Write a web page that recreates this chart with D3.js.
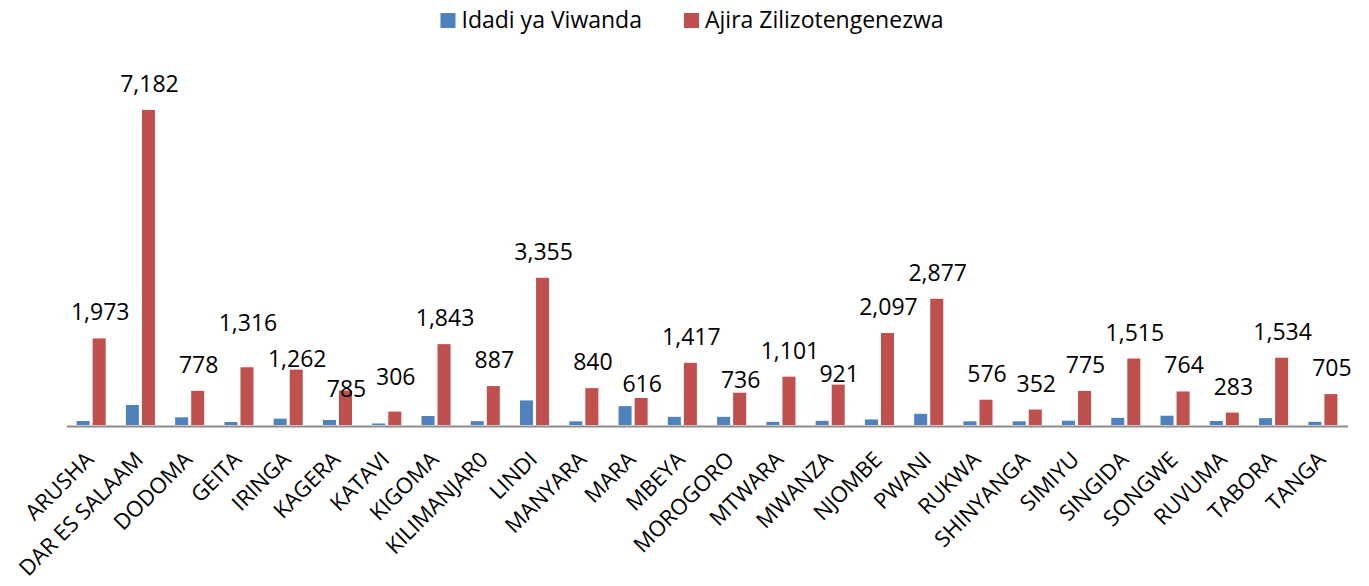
<!DOCTYPE html>
<html>
<head>
<meta charset="utf-8">
<script src="https://cdn.jsdelivr.net/npm/d3@7"></script>
<style>
  body { margin: 0; background: #fff; }
  svg { display: block; font-family: "Open Sans", sans-serif; }
</style>
</head>
<body>
<div id="chart"></div>
<script>
// Regions (mikoa)
const regions = ["ARUSHA", "DAR ES SALAAM", "DODOMA", "GEITA", "IRINGA", "KAGERA", "KATAVI",
    "KIGOMA", "KILIMANJAR0", "LINDI", "MANYARA", "MARA", "MBEYA", "MOROGORO", "MTWARA",
    "MWANZA", "NJOMBE", "PWANI", "RUKWA", "SHINYANGA", "SIMIYU", "SINGIDA", "SONGWE",
    "RUVUMA", "TABORA", "TANGA"];

// Idadi ya Viwanda (no labels in the original)
const viwanda = [91, 456, 175, 68, 144, 114, 35, 205, 88, 560, 84, 430, 186, 186, 72,
    95, 126, 255, 84, 84, 98, 163, 212, 91, 156, 72];

// Ajira Zilizotengenezwa
const ajira = [1973, 7182, 778, 1316, 1262, 785, 306, 1843, 887, 3355, 840, 616, 1417,
    736, 1101, 921, 2097, 2877, 576, 352, 775, 1515, 764, 283, 1534, 705];

const seriesNames = ["Idadi ya Viwanda", "Ajira Zilizotengenezwa"];
const colors = ["#4F81BD", "#C0504D"];

// a few labels were dragged by hand in the original, extra vertical nudge (px)
const labelNudge = [0, 0, 0, -18, 15, 24, -9, 0, 0, 0, 0, 12, 0, 13, 0, 15, 0, 0, 0, 0, 0, 0, 0, 0, 0, 0];

const W = 1369, H = 586;
const plotLeft = 66.5, plotRight = 1347.5, base = 425, plotTop = 74;
const fontSize = 23;

const svg = d3.select("#chart").append("svg")
    .attr("width", W)
    .attr("height", H);

svg.append("rect").attr("width", W).attr("height", H).attr("fill", "#fff");

// scales
const x0 = d3.scaleBand()
    .domain(regions)
    .range([plotLeft, plotRight])
    .paddingInner(0.41)
    .paddingOuter(0.205);

const x1 = d3.scaleBand()
    .domain([0, 1])
    .range([0, x0.bandwidth()])
    .paddingInner(0.19);

const y = d3.scaleLinear()
    .domain([0, 8000])
    .range([base, plotTop]);

const rows = regions.map((r, i) => ({region: r, vals: [viwanda[i], ajira[i]], i: i}));

// bars
const groups = svg.append("g")
    .selectAll("g")
    .data(rows)
    .join("g")
    .attr("transform", d => `translate(${x0(d.region)},0)`);

groups.selectAll("rect")
    .data(d => d.vals.map((v, k) => ({k: k, v: v})))
    .join("rect")
    .attr("x", d => x1(d.k))
    .attr("width", x1.bandwidth())
    .attr("y", d => y(d.v))
    .attr("height", d => base - y(d.v))
    .attr("fill", d => colors[d.k]);

// x axis
const xAxis = svg.append("g")
    .attr("transform", `translate(0,${base + 1})`)
    .call(d3.axisBottom(x0).tickSize(0).tickSizeOuter(0).tickFormat(""));
xAxis.select(".domain").attr("stroke", "#8C8C8C").attr("stroke-width", 2);

// rotated category labels
svg.append("g")
    .selectAll("text")
    .data(regions)
    .join("text")
    .attr("text-anchor", "end")
    .attr("transform", d => `translate(${x0(d) + x0.bandwidth() / 2 + 4},${461}) rotate(-45)`)
    .attr("font-size", 22)
    .attr("fill", "#000")
    .text(d => d);

// data labels for Ajira
const fmt = d3.format(",");
svg.append("g")
    .selectAll("text")
    .data(rows)
    .join("text")
    .attr("text-anchor", "middle")
    .attr("x", d => x0(d.region) + x1(1) + x1.bandwidth() / 2 + 1)
    .attr("y", d => y(d.vals[1]) - 18 + labelNudge[d.i])
    .attr("font-size", fontSize)
    .attr("fill", "#000")
    .text(d => fmt(d.vals[1]));

// legend
const legend = svg.append("g");
const items = legend.selectAll("g")
    .data(seriesNames)
    .join("g");
items.append("rect")
    .attr("width", 15).attr("height", 15)
    .attr("y", 13)
    .attr("fill", (d, i) => colors[i]);
items.append("text")
    .attr("x", 21)
    .attr("y", 28)
    .attr("font-size", fontSize)
    .attr("fill", "#000")
    .text(d => d);

let lx = 0;
items.each(function() {
    const w = this.getBBox().width;
    d3.select(this).attr("transform", `translate(${lx},0)`);
    lx += w + 42;
});
lx -= 42;
legend.attr("transform", `translate(${692 - lx / 2},0)`);
</script>
</body>
</html>
